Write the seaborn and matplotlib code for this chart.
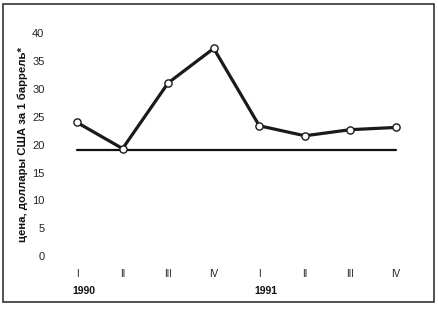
import matplotlib
matplotlib.use("Agg")
import matplotlib.pyplot as plt
import seaborn as sns
import pandas as pd
from matplotlib.patches import Rectangle

quarters = ["I", "II", "III", "IV", "I", "II", "III", "IV"]
years = ["1990", "1991"]
year_start_idx = [0, 4]
prices = [24.0, 19.3, 31.1, 37.3, 23.4, 21.6, 22.7, 23.1]
baseline_value = 19.1
yticks = [0, 5, 10, 15, 20, 25, 30, 35, 40]
ylabel = "цена, доллары США за 1 баррель*"

sns.set_theme(style="white")
plt.rcParams['font.family'] = ['Liberation Sans', 'DejaVu Sans']

fig = plt.figure(figsize=(4.39, 3.09), dpi=100)
ax = fig.add_axes([0.1235, 0.1715, 0.8305, 0.7205])

df = pd.DataFrame({"pos": list(range(len(prices))), "price": prices})
base = pd.DataFrame({"pos": list(range(len(prices))), "price": [baseline_value] * len(prices)})

sns.lineplot(data=base, x="pos", y="price", ax=ax, color="#111111", linewidth=1.6)
sns.lineplot(data=df, x="pos", y="price", ax=ax, color="#1a1a1a", linewidth=2.3,
             marker="o", markersize=5.2, markerfacecolor="white",
             markeredgecolor="#1a1a1a", markeredgewidth=1.0)

ax.set_xlim(-0.5, len(prices) - 0.5)
ax.set_ylim(0, 40)
ax.set_yticks(yticks)
ax.set_yticklabels([str(v) for v in yticks], fontsize=8, color="#222222")
ax.set_xticks(range(len(quarters)))
ax.set_xticklabels(quarters, fontsize=7, color="#222222")
ax.tick_params(axis="y", length=0, pad=7)
ax.tick_params(axis="x", length=0, pad=9)
ax.set_xlabel("")
ax.set_ylabel(ylabel, fontsize=8.2, fontweight="bold", color="#111111", labelpad=3)
for s in ax.spines.values():
    s.set_visible(False)

for y, i in zip(years, year_start_idx):
    ax.annotate(y, xy=(i, 0), xycoords=("data", "axes fraction"),
                xytext=(5, -25), textcoords="offset points",
                ha="center", va="center", fontsize=7.5, fontweight="bold", color="#111111")

fig.patches.append(Rectangle((3 / 439, 7 / 309), 431 / 439, 298 / 309, transform=fig.transFigure,
                             fill=False, edgecolor="#333333", linewidth=1.2))

fig.savefig("out.png", dpi=100)
